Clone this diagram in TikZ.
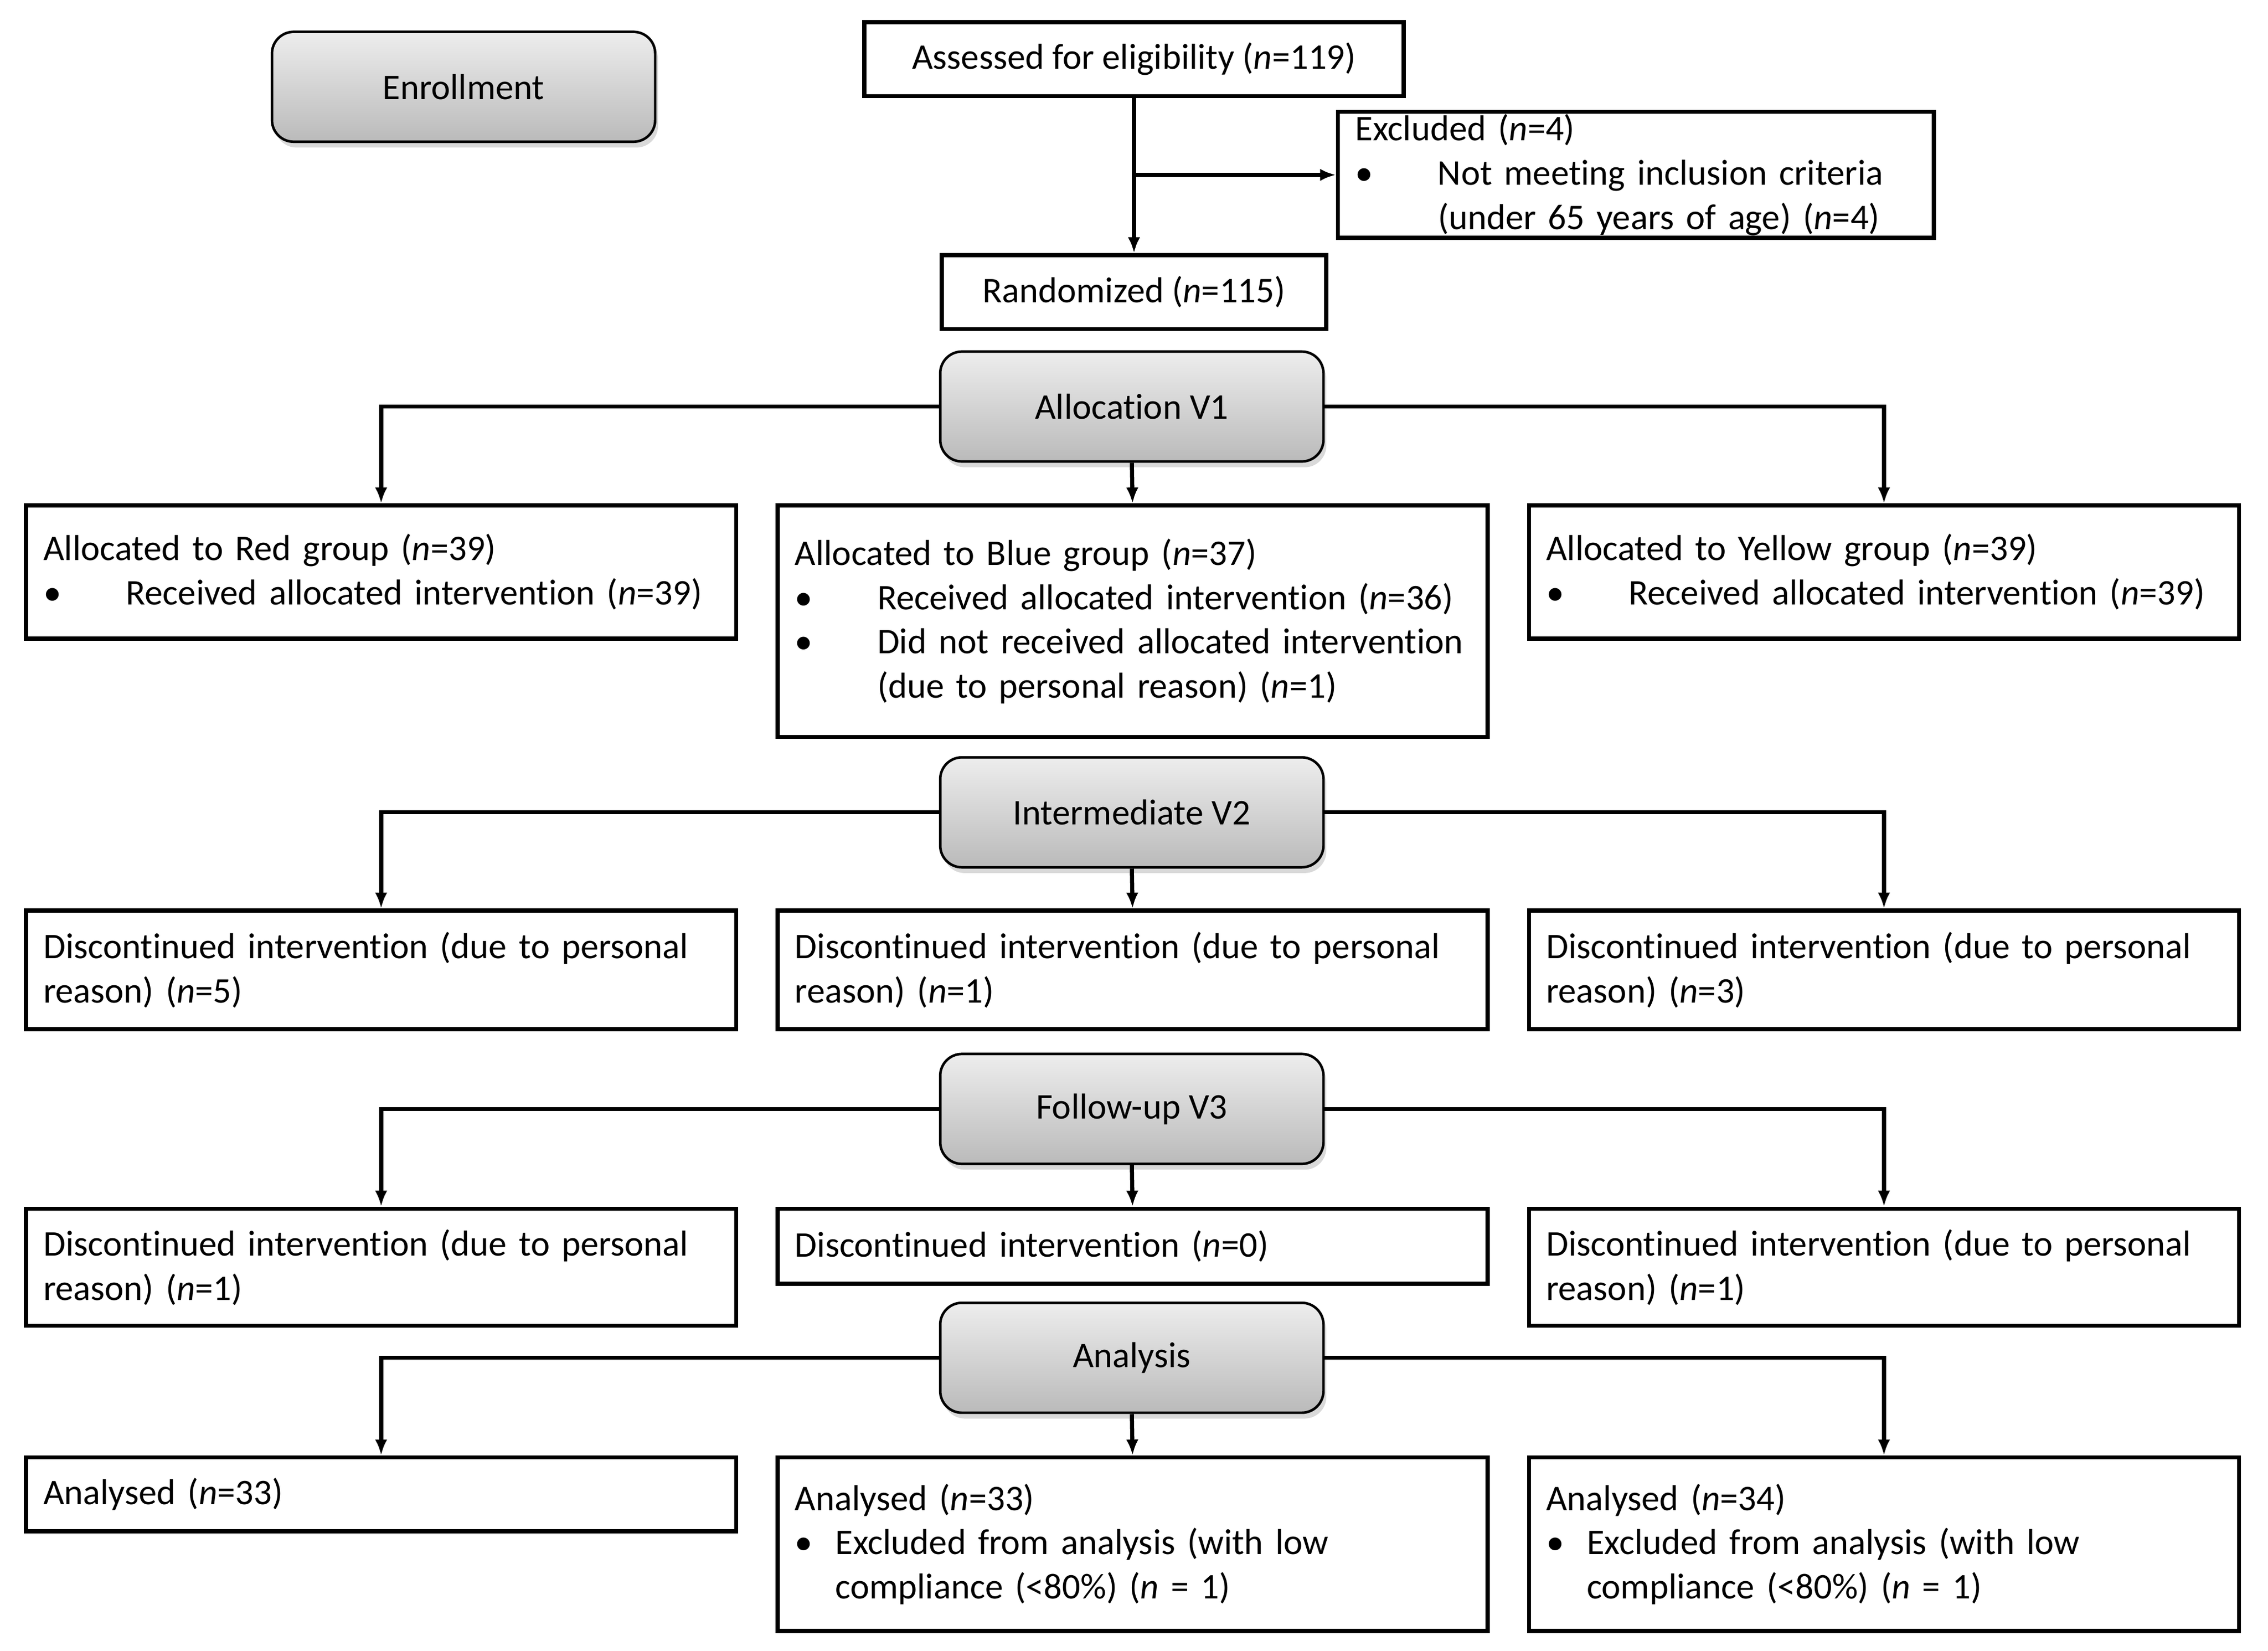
\documentclass[tikz,border=0pt]{standalone}
\usepackage{fontspec}
\setmainfont{Carlito}[Ligatures=NoCommon]
\usetikzlibrary{
	arrows.meta,
	positioning,
	shadows
}
\tikzset{
  % arrow
	cstra/.style      ={-{Latex[length=0.22cm,width=0.17cm]}, line width=1.6pt}, % down/right arrow
	cstline/.style    ={line width=1.6pt},
  % node
	cstnode/.style    ={draw=black, line width=1.6pt, fill=white, inner xsep=0.24cm, inner ysep=0pt, minimum height=1.02cm},
	cstgrp/.style     ={cstnode, text width=9.34cm, align=left, anchor=north},
	cststage/.style   ={draw=black, line width=1pt, rounded corners=0.3cm, top color=black!7, bottom color=black!27,
	                    minimum width=5.3cm, minimum height=1.52cm,
	                    drop shadow={opacity=.3, shadow xshift=.04cm, shadow yshift=-.08cm}}
}
\newcommand{\nv}{\textit{n}}
\newcommand{\cstbul}[1]{\makebox[#1][l]{\textbullet}}

\begin{document}
\begin{tikzpicture}[x=0.02cm,y=-0.02cm,font=\fontsize{14.2pt}{17.4pt}\selectfont]
	\useasboundingbox (0,0) rectangle (1568,1141);
	% enrollment
	\node[cststage] (enrol) at (320.5,60) {Enrollment};
	\node[cstnode, minimum width=7.46cm, anchor=north] (assess) at (784,14) {Assessed for eligibility (\nv=119)};
	\node[cstnode, text width=7.76cm, align=left, minimum height=1.74cm, anchor=north] (excl) at (1131,76)
		{Excluded (\nv=4)\\ \cstbul{1.14cm}Not meeting inclusion criteria\\ \hspace*{1.14cm}(under 65 years of age) (\nv=4)};
	\node[cstnode, minimum width=5.32cm, anchor=north] (rand) at (784,175) {Randomized (\nv=115)};
	\draw[cstra] (assess.south) -- (rand.north);
	\draw[cstra] (assess.south |- excl.west) -- (excl.west);
	% allocation
	\node[cststage] (alloc) at (782.5,281) {Allocation V1};
	\node[cstgrp, minimum height=1.84cm] (red) at (263.5,348)
		{Allocated to Red group (\nv=39)\\ \cstbul{1.14cm}Received allocated intervention (\nv=39)};
	\node[cstgrp, minimum height=3.2cm] (blue) at (783,348)
		{Allocated to Blue group (\nv=37)\\ \cstbul{1.14cm}Received allocated intervention (\nv=36)\\
		 \cstbul{1.14cm}Did not received allocated intervention\\ \hspace*{1.14cm}(due to personal reason) (\nv=1)};
	\node[cstgrp, minimum height=1.84cm] (yellow) at (1302.5,348)
		{Allocated to Yellow group (\nv=39)\\ \cstbul{1.14cm}Received allocated intervention (\nv=39)};
	\draw[cstra] (alloc.west) -| (red.north);
	\draw[cstra] (alloc.south) -- (blue.north);
	\draw[cstra] (alloc.east) -| (yellow.north);
	% intermediate
	\node[cststage] (inter) at (782.5,561.5) {Intermediate V2};
	\node[cstgrp, minimum height=1.64cm] (red2) at (263.5,628) {Discontinued intervention (due to personal\\ reason) (\nv=5)};
	\node[cstgrp, minimum height=1.64cm] (blue2) at (783,628) {Discontinued intervention (due to personal\\ reason) (\nv=1)};
	\node[cstgrp, minimum height=1.64cm] (yellow2) at (1302.5,628) {Discontinued intervention (due to personal\\ reason) (\nv=3)};
	\draw[cstra] (inter.west) -| (red2.north);
	\draw[cstra] (inter.south) -- (blue2.north);
	\draw[cstra] (inter.east) -| (yellow2.north);
	% follow-up
	\node[cststage] (follow) at (782.5,766.5) {Follow-up V3};
	\node[cstgrp, minimum height=1.62cm] (red3) at (263.5,834) {Discontinued intervention (due to personal\\ reason) (\nv=1)};
	\node[cstgrp, minimum height=1.04cm] (blue3) at (783,834) {Discontinued intervention (\nv=0)};
	\node[cstgrp, minimum height=1.62cm] (yellow3) at (1302.5,834) {Discontinued intervention (due to personal\\ reason) (\nv=1)};
	\draw[cstra] (follow.west) -| (red3.north);
	\draw[cstra] (follow.south) -- (blue3.north);
	\draw[cstra] (follow.east) -| (yellow3.north);
	% analysis
	\node[cststage] (anal) at (782.5,938.5) {Analysis};
	\node[cstgrp, minimum height=1.02cm] (red4) at (263.5,1006) {Analysed (\nv=33)};
	\node[cstgrp, minimum height=2.4cm] (blue4) at (783,1006)
		{Analysed (\nv=33)\\ \cstbul{0.56cm}Excluded from analysis (with low\\ \hspace*{0.56cm}compliance (<80\%) (\nv{} = 1)};
	\node[cstgrp, minimum height=2.4cm] (yellow4) at (1302.5,1006)
		{Analysed (\nv=34)\\ \cstbul{0.56cm}Excluded from analysis (with low\\ \hspace*{0.56cm}compliance (<80\%) (\nv{} = 1)};
	\draw[cstra] (anal.west) -| (red4.north);
	\draw[cstra] (anal.south) -- (blue4.north);
	\draw[cstra] (anal.east) -| (yellow4.north);
\end{tikzpicture}
\end{document}
